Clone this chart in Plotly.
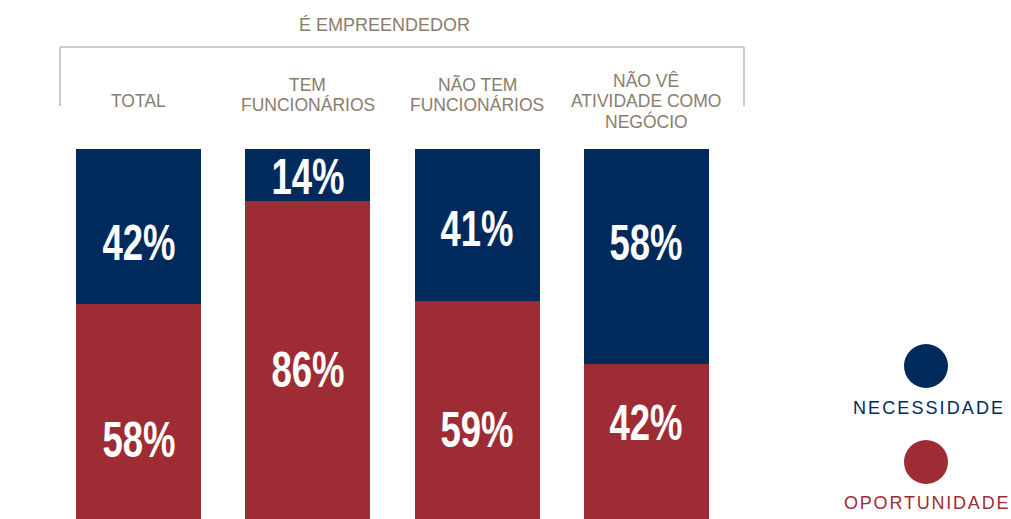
import plotly.graph_objects as go

# data
categories = ["TOTAL", "TEM<br>FUNCIONÁRIOS", "NÃO TEM<br>FUNCIONÁRIOS", "NÃO VÊ<br>ATIVIDADE COMO<br>NEGÓCIO"]
oportunidade = [58, 86, 59, 42]
necessidade = [42, 14, 41, 58]
group_title = "É EMPREENDEDOR"
series_names = ["NECESSIDADE", "OPORTUNIDADE"]

NAVY = "#002a5c"
RED = "#9e2c35"
LABEL = "#8a7d6d"
BRACKET = "#d0cac2"

W, H = 1011, 519
PX_PER_UNIT = 3.7          # 100% = 370 px
SLOT = 169.33              # px between bar centres
FIRST = 138.5              # px centre of first bar


def px_x(p):
    return p / W


def px_y(p):
    return 1 - p / H


x = list(range(len(categories)))

fig = go.Figure()
fig.add_trace(go.Bar(x=x, y=oportunidade, name=series_names[1], marker_color=RED,
                     marker_line_width=0, width=125 / SLOT, hoverinfo="skip"))
fig.add_trace(go.Bar(x=x, y=necessidade, name=series_names[0], marker_color=NAVY,
                     marker_line_width=0, width=125 / SLOT, hoverinfo="skip"))

annotations = []
pct_font = dict(family="Liberation Sans", size=50, color="white")

# label centres (px from top)
nec_label_y = [243, 177, 229, 243]
opo_label_y = [440, 370, 430, 423]
for i in x:
    annotations.append(dict(x=i, y=px_y(nec_label_y[i]), xref="x", yref="paper",
                            text=f"<b>{necessidade[i]}%</b>", showarrow=False,
                            font=pct_font, yanchor="middle"))
    annotations.append(dict(x=i, y=px_y(opo_label_y[i]), xref="x", yref="paper",
                            text=f"<b>{oportunidade[i]}%</b>", showarrow=False,
                            font=pct_font, yanchor="middle"))

# category headers, one annotation per line to keep tight leading
first_line = {1: 101, 2: 85, 3: 81}
for i, cat in enumerate(categories):
    lines = cat.split("<br>")
    for j, line in enumerate(lines):
        annotations.append(dict(x=i, y=px_y(first_line[len(lines)] + 20 * j), xref="x", yref="paper",
                                text=line, showarrow=False, yanchor="middle",
                                font=dict(family="Liberation Sans", size=17.5, color=LABEL)))

annotations.append(dict(x=px_x(384.5), y=px_y(25), xref="paper", yref="paper",
                        text=group_title, showarrow=False, yanchor="middle",
                        font=dict(family="Liberation Sans", size=18, color=LABEL)))

# legend
legend_items = [(series_names[0], NAVY, 366, 408, 851), (series_names[1], RED, 462, 503, 842)]
shapes = []
for name, col, cy, ty, tx in legend_items:
    shapes.append(dict(type="circle", xref="paper", yref="paper", xsizemode="pixel", ysizemode="pixel",
                       xanchor=px_x(926), yanchor=px_y(cy), x0=-22, x1=22, y0=-22, y1=22,
                       fillcolor=col, line_width=0))
    annotations.append(dict(x=px_x(tx), y=px_y(ty), xref="paper", yref="paper", text=name,
                            showarrow=False, yanchor="middle", xanchor="left", align="left",
                            font=dict(family="Liberation Sans", size=18, color=col)))

# bracket over the groups
for x0, y0, x1, y1 in [(60, 47, 744, 47), (60, 47, 60, 106), (744, 47, 744, 106)]:
    shapes.append(dict(type="line", xref="paper", yref="paper",
                       x0=px_x(x0), y0=px_y(y0), x1=px_x(x1), y1=px_y(y1),
                       line=dict(color=BRACKET, width=2)))

fig.update_layout(
    width=W, height=H,
    barmode="stack",
    margin=dict(l=0, r=0, t=0, b=0),
    paper_bgcolor="white", plot_bgcolor="white",
    showlegend=False,
    xaxis=dict(visible=False, range=[-FIRST / SLOT, (W - FIRST) / SLOT]),
    yaxis=dict(visible=False, range=[0, H / PX_PER_UNIT]),
    annotations=annotations,
    shapes=shapes,
)

post = r"""
document.body.style.margin = '0';
var gd = document.getElementById('{plot_id}');
function styleText() {
  gd.querySelectorAll('text.annotation-text').forEach(function (t) {
    var s = t.textContent;
    if (s === 'NECESSIDADE') { t.style.letterSpacing = '2.1px'; }
    if (s === 'OPORTUNIDADE') { t.style.letterSpacing = '1.8px'; }
    if (/^\d+%$/.test(s)) {
      t.style.transformBox = 'fill-box';
      t.style.transformOrigin = 'center';
      t.style.transform = 'scaleX(0.73)';
    }
  });
}
styleText();
gd.on('plotly_afterplot', styleText);
"""
fig.write_html("out.html", post_script=post, config={"displayModeBar": False})
